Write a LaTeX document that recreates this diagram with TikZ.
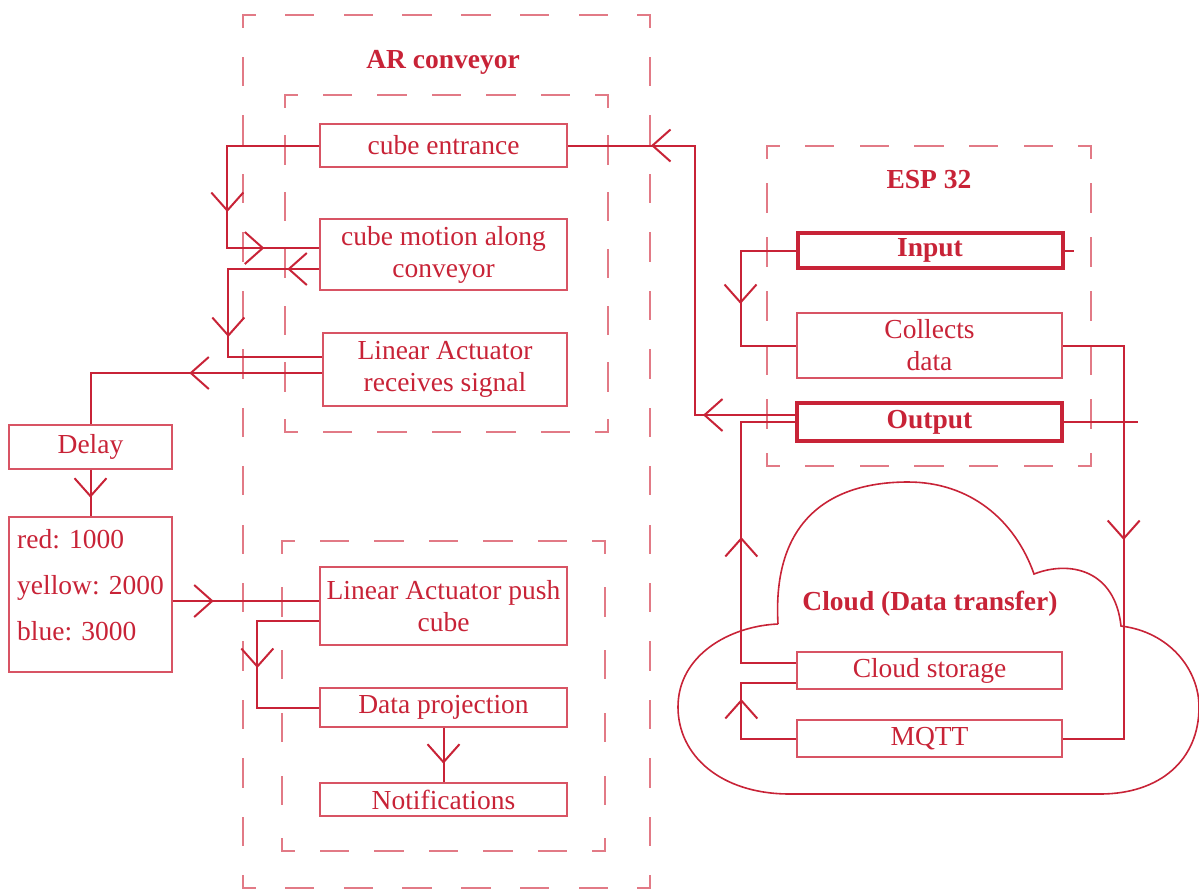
\documentclass[tikz,border=0pt]{standalone}
\usepackage{fontspec}
\setmainfont{Liberation Serif}
\usetikzlibrary{arrows.meta,decorations.markings}
\definecolor{arred}{RGB}{200,35,55}
\definecolor{arpink}{RGB}{216,84,100}
\definecolor{ardash}{RGB}{226,122,134}
\begin{document}
\begin{tikzpicture}[x=0.5pt,y=-0.5pt,
	every node/.style={font=\fontsize{13.75pt}{16pt}\selectfont,text=arred,align=center,inner sep=0},
	box/.style={draw=arpink,line width=0.7pt,minimum width=123.5pt},
	rbox/.style={box,minimum width=132.5pt},
	esp/.style={rbox,draw=arred,line width=2pt,font=\fontsize{13.75pt}{16pt}\selectfont\bfseries},
	title/.style={font=\fontsize{13.75pt}{16pt}\selectfont\bfseries},
	group/.style={draw=ardash,line width=0.7pt,line cap=rect,dash pattern=on 14pt off #1pt,dash phase=8pt},
	conn/.style={draw=arred,line width=1pt},
	arr/.style={postaction={decorate,decoration={markings,
		mark=at position #1 with {\arrow{Straight Barb[length=9pt,width=16pt]}}}}}]
\useasboundingbox (0,0) rectangle (1199,890);
\foreach \xa/\ya/\xb/\yb in {243/15/650/888,285/95/608/432,282/541/605/851,767/146/1091/466}{
	\pgfmathsetmacro\lw{(\xb-\xa)/2}
	\pgfmathsetmacro\lh{(\yb-\ya)/2}
	\pgfmathsetmacro\gw{(\lw-12-14*round((\lw-27)/29))/(round((\lw-27)/29)+1)}
	\pgfmathsetmacro\gh{(\lh-12-14*round((\lh-27)/29))/(round((\lh-27)/29)+1)}
	\draw[group=\gw] (\xa,\ya) -- (\xb,\ya);
	\draw[group=\gw] (\xa,\yb) -- (\xb,\yb);
	\draw[group=\gh] (\xa,\ya) -- (\xa,\yb);
	\draw[group=\gh] (\xb,\ya) -- (\xb,\yb);
}
\draw[conn,line width=0.8pt] (778,624) .. controls (772,520) and (830,482) .. (908,482)
	.. controls (970,482) and (1015,520) .. (1034,574)
	.. controls (1070,560) and (1115,570) .. (1121,626)
	.. controls (1170,632) and (1199,670) .. (1199,707)
	.. controls (1199,760) and (1160,794) .. (1100,794) -- (790,794)
	.. controls (720,794) and (678,755) .. (678,707)
	.. controls (678,655) and (730,626) .. (778,624);
\node[title] (artitle) at (443,62) {AR conveyor};
\node[title] (esptitle) at (929,180) {ESP 32};
\node[title] (cloudtitle) at (930,604) {Cloud (Data transfer)};
\node[box,minimum height=21.5pt] (entr) at (443.5,145.5) {cube entrance};
\node[box,minimum height=35.5pt] (motion) at (443.5,254.5) {cube motion along\\conveyor};
\node[box,minimum width=122pt,minimum height=36.5pt] (recv) at (445,369.5) {Linear Actuator\\receives signal};
\node[box,minimum width=81.5pt,minimum height=22pt] (delay) at (90.5,447) {Delay};
\node[box,minimum width=81.5pt,minimum height=77.5pt,align=left,text depth=10pt,
	font=\fontsize{13.75pt}{23pt}\selectfont] (vals) at (90.5,594.5) {red: 1000\\yellow: 2000\\blue: 3000};
\node[box,minimum height=39pt] (push) at (443.5,606) {Linear Actuator push\\cube};
\node[box,minimum height=19.5pt] (proj) at (443.5,707.5) {Data projection};
\node[box,minimum height=16.5pt] (notif) at (443.5,799.5) {Notifications};
\node[esp,minimum height=17.5pt] (input) at (930,250.5) {Input};
\node[rbox,minimum height=32.5pt] (coll) at (929.5,345.5) {Collects\\data};
\node[esp,minimum height=19pt] (output) at (929.5,422) {Output};
\node[rbox,minimum height=18.5pt] (store) at (929.5,670.5) {Cloud storage};
\node[rbox,minimum height=18.5pt] (mqtt) at (929.5,738.5) {MQTT};
\coordinate (pin) at ([yshift=2.5pt]push.west);
\coordinate (inend) at (1074,250.5);
\coordinate (outend) at (1138,422);
\draw[conn,arr=79.25pt,arr=115.75pt] (entr.west) -- ++(-92,0) |- ([yshift=3.25pt]motion.west);
\draw[conn,arr=16pt,arr=79.5pt] ([yshift=-7.25pt]motion.west) -- ++(-91,0) |- ([yshift=6.25pt]recv.west);
\draw[conn,arr=66.5pt] ([yshift=-1.75pt]recv.west) -| (delay.north);
\draw[conn,arr=14pt] (delay.south) -- (vals.north);
\draw[conn,arr=20.5pt] (vals.east |- pin) -- (pin);
\draw[conn,arr=54.5pt] ([yshift=-7.5pt]push.west) -- ++(-62,0) |- (proj.west);
\draw[conn,arr=18pt] (proj.south) -- (notif.north);
\draw[conn,arr=46pt,arr=206.75pt] ([yshift=3.5pt]output.west) -- ++(-100,0) |- (entr.east);
\draw[conn,arr=54.25pt] (input.west) -- ++(-55,0) |- (coll.west);
\draw[conn] (input.east) -- (inend);
\draw[conn,arr=90.5pt] ([yshift=3.75pt]store.west) -- ++(-55,0) |- (output.west);
\draw[conn,arr=127.75pt] (coll.east) -- ++(61,0) |- (mqtt.east);
\draw[conn,arr=47.25pt] (mqtt.west) -- ++(-55,0) |- ([yshift=-6.25pt]store.west);
\draw[conn] (output.east) -- (outend);
\end{tikzpicture}
\end{document}
